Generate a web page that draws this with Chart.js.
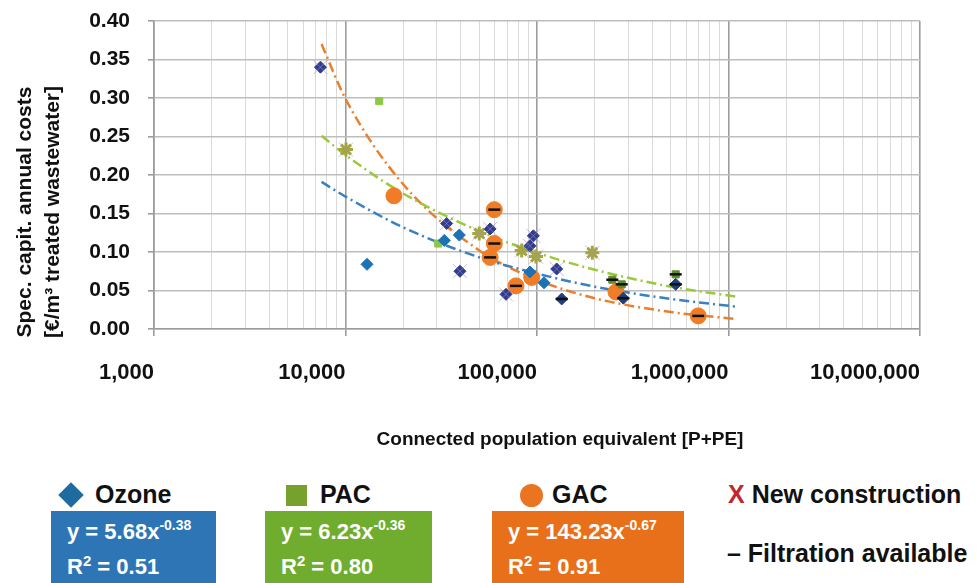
<!DOCTYPE html>
<html>
<head>
<meta charset="utf-8">
<script src="https://cdn.jsdelivr.net/npm/chart.js@4"></script>
<style>
  body { margin: 0; background: #fff; font-family: Arial, "Liberation Sans", sans-serif; }
  #wrap { position: relative; width: 978px; height: 583px; overflow: hidden; }
  #chart-box { position: absolute; left: 0; top: 0; width: 978px; height: 460px; }
  .abs { position: absolute; font-weight: bold; white-space: nowrap; }
  .ytitle { width: 320px; left: -122px; top: 184px; height: 56px; line-height: 28px;
    font-size: 21px; text-align: center; color: #111; transform: rotate(-90deg); }
  .xtitle { left: 360px; top: 428px; width: 400px; text-align: center; font-size: 19px; color: #111; }
  .name { font-size: 25px; top: 480px; color: #111; }
  .box { top: 511px; height: 80px; color: #fff; font-size: 22px; line-height: 35px;
    padding: 3px 0 0 16px; box-sizing: border-box; }
  .box sup { font-size: 14px; vertical-align: 9px; line-height: 0; }
  .box .r2 { font-size: 15px; vertical-align: 8px; line-height: 0; }
</style>
</head>
<body>
<div id="wrap">
  <div id="chart-box"><canvas id="chart"></canvas></div>
  <div class="abs ytitle">Spec. capit. annual costs<br>[€/m³ treated wastewater]</div>
  <div class="abs xtitle">Connected population equivalent [P+PE]</div>

  <!-- LEGEND -->
  <div class="abs" style="left:62px;top:486px;width:18px;height:18px;background:#1f6a9f;transform:rotate(45deg);"></div>
  <div class="abs name" style="left:95px;">Ozone</div>
  <div class="abs" style="left:286px;top:485px;width:21px;height:21px;background:#77a12f;"></div>
  <div class="abs name" style="left:320px;">PAC</div>
  <div class="abs" style="left:520px;top:484px;width:23px;height:23px;border-radius:50%;background:#eb7421;"></div>
  <div class="abs name" style="left:552px;">GAC</div>
  <div class="abs name" style="left:728px;"><span style="color:#c0272d;">X</span> New construction</div>
  <div class="abs name" style="left:727px;top:539px;">– Filtration available</div>

  <div class="abs box" style="left:51px;width:165px;background:#2e75b6;">y = 5.68x<sup>-0.38</sup><br>R<span class="r2">2</span> = 0.51</div>
  <div class="abs box" style="left:265px;width:167px;background:#70ad2f;">y = 6.23x<sup>-0.36</sup><br>R<span class="r2">2</span> = 0.80</div>
  <div class="abs box" style="left:492px;width:192px;background:#e8701a;">y = 143.23x<sup>-0.67</sup><br>R<span class="r2">2</span> = 0.91</div>
</div>

<script>
// TICKS
const xMajorTicks = [1000, 10000, 100000, 1000000, 10000000];
const xTickLabels = ["1,000", "10,000", "100,000", "1,000,000", "10,000,000"];

// OZONE
const ozoneX = [12950, 32800, 39300, 91900, 108800];
const ozoneY = [0.084, 0.115, 0.122, 0.074, 0.060];
const ozoneNewX = [7400, 33750, 39600, 56900, 95700, 91900, 68900, 126700];
const ozoneNewY = [0.340, 0.137, 0.075, 0.130, 0.121, 0.108, 0.045, 0.078];
const ozoneFiltX = [134600, 282300, 530000];
const ozoneFiltY = [0.039, 0.040, 0.058];

// PAC
const pacX = [15000, 30500];
const pacY = [0.296, 0.111];
const pacNewX = [10060, 49950, 83200, 98800, 194500];
const pacNewY = [0.233, 0.124, 0.102, 0.094, 0.099];
const pacFiltX = [247300, 276900, 530000];
const pacFiltY = [0.064, 0.058, 0.071];

// GAC
const gacX = [17900, 93800, 258500];
const gacY = [0.173, 0.067, 0.048];
const gacFiltX = [59840, 59840, 56900, 77650, 695000];
const gacFiltY = [0.155, 0.111, 0.093, 0.056, 0.017];

// TRENDLINES
const trendX = [7500, 10000, 20000, 50000, 100000, 200000, 500000, 1100000];
const ozoneTrend = [0.191, 0.172, 0.132, 0.093, 0.072, 0.055, 0.039, 0.029];
const pacTrend = [0.251, 0.226, 0.176, 0.127, 0.099, 0.077, 0.055, 0.042];
const gacTrend = [0.370, 0.299, 0.188, 0.102, 0.064, 0.040, 0.022, 0.013];

const toPoints = (xs, ys) => xs.map((x, i) => ({ x: x, y: ys[i] }));

function trend(label, ys, color) {
  return {
    label: label,
    data: toPoints(trendX, ys),
    showLine: true,
    borderColor: color,
    borderWidth: 2.5,
    borderDash: [10, 4, 2, 4],
    pointRadius: 0,
    cubicInterpolationMode: "monotone",
    order: 3,
  };
}

function marks(label, xs, ys, style, color, radius, extra) {
  return Object.assign({
    label: label,
    data: toPoints(xs, ys),
    pointStyle: style,
    backgroundColor: color,
    borderColor: color,
    pointRadius: radius,
    borderWidth: 1,
    order: 1,
  }, extra || {});
}

const isMajor = (ctx) => ctx.tick && xMajorTicks.includes(ctx.tick.value);

const config = {
  type: "scatter",
  data: {
    datasets: [
      trend("Ozone trend", ozoneTrend, "#3a80c2"),
      trend("PAC trend", pacTrend, "#9cc93a"),
      trend("GAC trend", gacTrend, "#e8802e"),
      marks("Ozone", ozoneX, ozoneY, "rectRot", "#1b72b5", 6),
      marks("Ozone new", ozoneNewX, ozoneNewY, "rectRot", "#2f3d8f", 6),
      marks("Ozone filtration", ozoneFiltX, ozoneFiltY, "rectRot", "#1f3f80", 6),
      marks("PAC", pacX, pacY, "rect", "#8fc744", 5),
      marks("PAC new", pacNewX, pacNewY, "star", "#a4a83c", 7, { borderWidth: 3 }),
      marks("PAC filtration", pacFiltX, pacFiltY, "rect", "#5f8a2a", 5),
      marks("GAC", gacX, gacY, "circle", "#f07c26", 8),
      marks("GAC filtration", gacFiltX, gacFiltY, "circle", "#f07c26", 8),
      marks("New construction",
        ozoneNewX.concat(pacNewX), ozoneNewY.concat(pacNewY),
        "crossRot", "rgba(170,140,180,0.6)", 10, { order: 0 }),
      marks("Filtration available",
        ozoneFiltX.concat(pacFiltX, gacFiltX), ozoneFiltY.concat(pacFiltY, gacFiltY),
        "line", "#111", 6, { borderWidth: 2.5, order: 0 }),
    ],
  },
  options: {
    responsive: false,
    animation: false,
    layout: { padding: { top: 21, right: 58, left: 0, bottom: 0 } },
    plugins: { legend: { display: false }, tooltip: { enabled: false } },
    scales: {
      x: {
        type: "logarithmic",
        min: 1000,
        max: 10000000,
        afterBuildTicks: (scale) => {
          const ticks = [];
          xMajorTicks.forEach((v, i) => {
            ticks.push({ value: v });
            if (i < xMajorTicks.length - 1) {
              for (let k = 2; k <= 9; k++) ticks.push({ value: v * k });
            }
          });
          scale.ticks = ticks;
        },
        afterFit: (scale) => { scale.height = 131; },
        ticks: {
          autoSkip: false,
          maxRotation: 0,
          align: "end",
          padding: 24,
          color: "#111",
          font: { size: 22, weight: "bold", family: "Arial, 'Liberation Sans', sans-serif" },
          callback: (value) => {
            const i = xMajorTicks.indexOf(value);
            return i >= 0 ? xTickLabels[i] : "";
          },
        },
        grid: {
          color: (ctx) => (isMajor(ctx) ? "#9c9c9c" : "#d9d9d9"),
          lineWidth: (ctx) => (isMajor(ctx) ? 1.6 : 1),
          tickColor: (ctx) => (isMajor(ctx) ? "#9c9c9c" : "rgba(0,0,0,0)"),
          tickLength: 7,
        },
        border: { color: "#9c9c9c", width: 1.6 },
      },
      y: {
        min: 0,
        max: 0.4,
        afterFit: (scale) => {
          scale.width = 154;
          // label overhang is already covered by the layout padding
          scale.paddingTop = 0;
          scale.paddingBottom = 0;
        },
        ticks: {
          stepSize: 0.05,
          padding: 18,
          color: "#111",
          font: { size: 21, weight: "bold", family: "Arial, 'Liberation Sans', sans-serif" },
          callback: (value) => value.toFixed(2),
        },
        grid: { color: "#bdbdbd", lineWidth: 1.6, tickLength: 6, tickColor: "#9c9c9c" },
        border: { color: "#9c9c9c", width: 1.6 },
      },
    },
  },
};

const canvasChart = document.getElementById("chart");
canvasChart.width = 978;
canvasChart.height = 460;
new Chart(canvasChart, config);
</script>
</body>
</html>
